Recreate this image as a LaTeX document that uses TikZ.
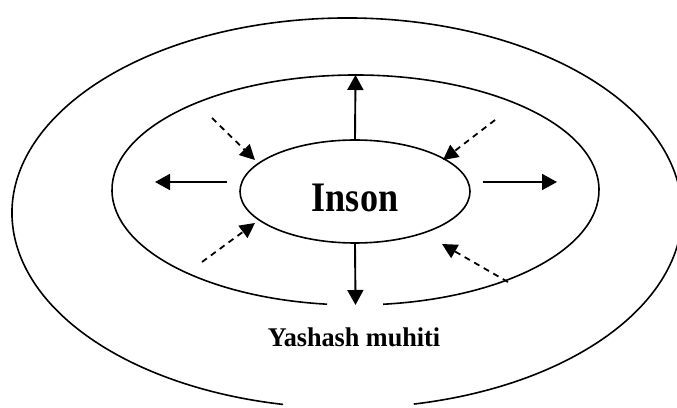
\documentclass[tikz,border=0pt]{standalone}
\usepackage{fontspec}
\setmainfont{Liberation Serif}
\usetikzlibrary{arrows.meta,shapes.geometric}
\begin{document}
\begin{tikzpicture}[x=1pt,y=1pt,
  ring/.style={line width=1.6pt},
  solidarrow/.style={line width=1.9pt,-{Triangle[length=15pt,width=16pt]}},
  dasharrow/.style={line width=1.8pt,dash pattern=on 6pt off 5pt,-{Triangle[length=15pt,width=15pt]}},
  lbl/.style={font=\bfseries, inner sep=0pt, anchor=base}]
\useasboundingbox (0,0) rectangle (677,407);
% outer ellipse with a gap at the bottom
\draw[ring] (347,194) ++(281.5:335 and 195) arc[start angle=281.5, end angle=619, x radius=335, y radius=195];
% middle ellipse with a gap at the bottom
\draw[ring] (355.5,217) ++(276.5:243.5 and 115) arc[start angle=276.5, end angle=623.3, x radius=243.5, y radius=115];
% inner ellipse
\node[ring, draw, ellipse, minimum width=230pt, minimum height=103pt, inner sep=0pt] (inson) at (355,215.5) {};
\node[lbl, font=\bfseries\fontsize{42}{44}\selectfont, xscale=0.86] (insontext) at (355,195) {Inson};
\node[lbl, font=\bfseries\fontsize{27}{29}\selectfont, xscale=0.97] (muhit) at (354,61) {Yashash muhiti};
% coordinates
\coordinate (mtop) at (355.5,332);
\coordinate (mbot) at (355.5,102);
\coordinate (lstart) at (227,225);
\coordinate (ltip) at (155,225);
\coordinate (rstart) at (483,225);
\coordinate (rtip) at (557,225);
\coordinate (tl0) at (212,289);
\coordinate (tl1) at (255,247);
\coordinate (tr0) at (495,287);
\coordinate (tr1) at (443,247);
\coordinate (bl0) at (202,145);
\coordinate (bl1) at (255,184);
\coordinate (br0) at (508,125);
\coordinate (br1) at (442,163);
% solid arrows
\draw[solidarrow] (inson.north) -- (mtop);
\draw[solidarrow] (inson.south) -- (mbot);
\draw[solidarrow] (lstart) -- (ltip);
\draw[solidarrow] (rstart) -- (rtip);
% dashed arrows
\draw[dasharrow] (tl0) -- (tl1);
\draw[dasharrow] (tr0) -- (tr1);
\draw[dasharrow] (bl0) -- (bl1);
\draw[dasharrow] (br0) -- (br1);
\end{tikzpicture}
\end{document}
